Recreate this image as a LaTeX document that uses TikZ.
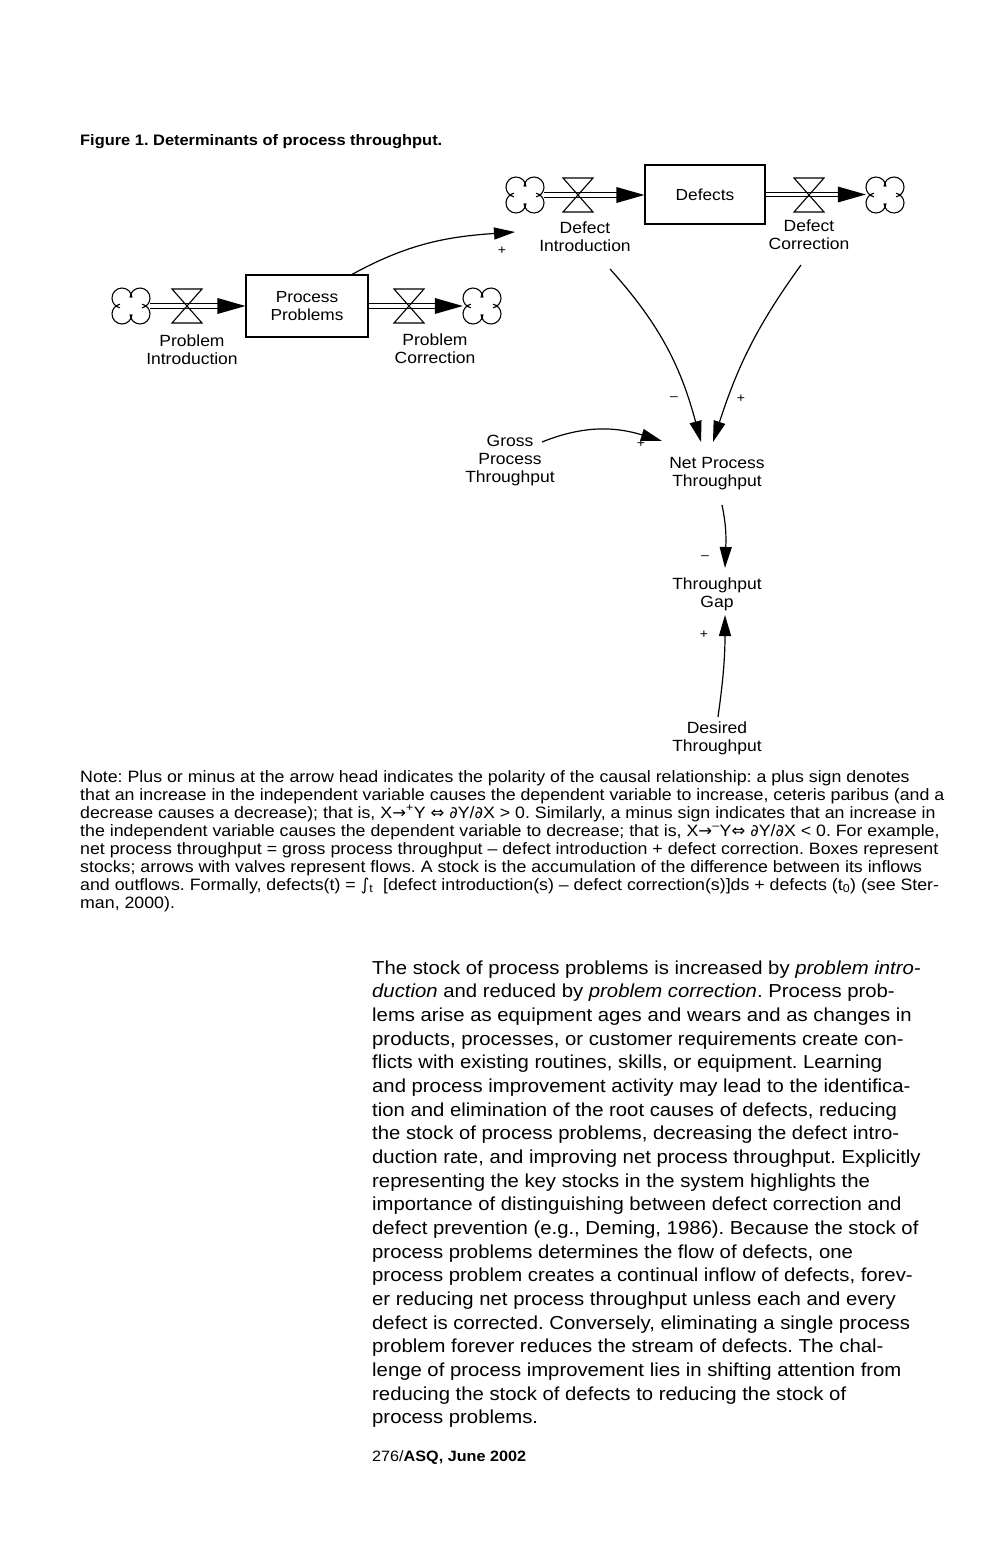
\documentclass[tikz,border=0pt]{standalone}
\usepackage{fontspec}
\setmainfont{Liberation Sans}[FakeStretch=1.08]
\newfontfamily\symf{DejaVu Sans}
\usetikzlibrary{arrows.meta,calc}
\frenchspacing

\tikzset{
  stock/.style={draw, line width=1.2pt, inner sep=0pt, align=center,
    font=\fontsize{16}{18.5}\selectfont},
  lbl/.style={inner sep=0pt, align=center, font=\fontsize{16.2}{18}\selectfont},
  pipe/.style={line width=1.1pt},
  causal/.style={line width=1.2pt, -{Triangle[length=21pt,width=12pt]}},
  pol/.style={inner sep=0pt, font=\fontsize{13}{13}\selectfont},
  cloudpt/.style={inner sep=0pt, minimum width=38pt, minimum height=36pt},
  valvept/.style={inner sep=0pt, minimum width=30pt, minimum height=34pt},
  cloud/.pic={
    \draw[line width=1.1pt] (9,8)   ++(178:10)  arc[start angle=178, end angle=-78, radius=10];
    \draw[line width=1.1pt] (-9,8)  ++(2:10)    arc[start angle=2, end angle=258, radius=10];
    \draw[line width=1.1pt] (-9,-8) ++(-2:10)   arc[start angle=-2, end angle=-258, radius=10];
    \draw[line width=1.1pt] (9,-8)  ++(-178:10) arc[start angle=-178, end angle=78, radius=10];
  },
  valve/.pic={
    \draw[line width=1.1pt, line join=miter] (-15,17) -- (15,17) -- (-15,-17) -- (15,-17) -- cycle;
  },
  caption/.style={anchor=base west, inner sep=0pt, font=\fontsize{15.2}{17}\selectfont\bfseries},
  note/.style={anchor=base west, inner sep=0pt, font=\fontsize{16.45}{18}\selectfont},
  body/.style={anchor=base west, inner sep=0pt, font=\fontsize{18.8}{23.7}\selectfont},
}

% material flow: double pipe from #1 to the anchor #2, ending in a solid head
\newcommand\flowline[2]{%
  \coordinate (ft) at (#1 -| #2);
  \draw[pipe] ($(#1)+(0,2.3)$) -- ($(ft)+(-26,2.3)$);
  \draw[pipe] ($(#1)+(0,-2.3)$) -- ($(ft)+(-26,-2.3)$);
  \fill ($(ft)+(-28,8)$) -- (ft) -- ($(ft)+(-28,-8)$) -- cycle;
}

\begin{document}
\begin{tikzpicture}[x=1pt,y=1pt]
\fill[white] (0,0) rectangle (1008,-1548);
\useasboundingbox (0,0) rectangle (1008,-1548);

\node[caption] (cap) at (80,-145) {Figure 1. Determinants of process throughput.};

% ---- defects chain ----
\node[stock, minimum width=120pt, minimum height=59pt] (ds) at (705,-194.5) {Defects};
\node[cloudpt] (cd1) at (525,-195) {};
\node[cloudpt] (cd2) at (885,-195) {};
\pic at (cd1) {cloud};
\pic at (cd2) {cloud};
\flowline{cd1.east}{ds.west}
\flowline{ds.east}{cd2.west}
\node[valvept] (vdi) at (578,-195) {};
\node[valvept] (vdc) at (809,-195) {};
\pic at (vdi) {valve};
\pic at (vdc) {valve};
\node[lbl] (dilab) at (585,-237) {Defect\\Introduction};
\node[lbl] (dclab) at (809,-235) {Defect\\Correction};

% ---- process problems chain ----
\node[stock, minimum width=122pt, minimum height=62pt] (pp) at (307,-306) {Process\\Problems};
\node[cloudpt] (cp1) at (131,-306) {};
\node[cloudpt] (cp2) at (482,-306) {};
\pic at (cp1) {cloud};
\pic at (cp2) {cloud};
\flowline{cp1.east}{pp.west}
\flowline{pp.east}{cp2.west}
\node[valvept] (vpi) at (187,-306) {};
\node[valvept] (vpc) at (409,-306) {};
\pic at (vpi) {valve};
\pic at (vpc) {valve};
\node[lbl] (pilab) at (192,-350) {Problem\\Introduction};
\node[lbl] (pclab) at (435,-349) {Problem\\Correction};

% ---- auxiliary variables ----
\node[lbl] (gross) at (510,-461) {Gross\\Process\\Throughput};
\node[lbl] (net) at (717,-474) {Net Process\\Throughput};
\node[lbl] (gap) at (717,-594) {Throughput\\Gap};
\node[lbl] (des) at (717,-738) {Desired\\Throughput};

% ---- causal links ----
\coordinate (ppout) at (351,-275);
\coordinate (diin) at (515,-232);
\coordinate (diout) at (610,-269);
\coordinate (dcout) at (801,-265);
\coordinate (netinl) at (701,-442);
\coordinate (netinr) at (713,-442);
\coordinate (grossout) at (542,-442);
\coordinate (netinc) at (662,-441);
\coordinate (netout) at (722,-505);
\coordinate (gapin) at (725,-568);
\coordinate (desout) at (718,-717);
\coordinate (gapinb) at (725,-615);

\draw[causal] (ppout) to[out=29,in=184] (diin);
\draw[causal] (diout) to[out=-48,in=105] (netinl);
\draw[causal] (dcout) to[out=-126,in=72] (netinr);
\draw[causal] (grossout) to[out=22,in=163] (netinc);
\draw[causal] (netout) to[out=-78,in=88] (gapin);
\draw[causal] (desout) to[out=82,in=-90] (gapinb);

\node[pol] at (502,-251) {+};
\node[pol] at (674,-399) {–};
\node[pol] at (741,-399) {+};
\node[pol] at (641,-444) {+};
\node[pol] at (705,-558) {–};
\node[pol] at (704,-635) {+};

% ---- note ----
\node[note] at (80,-782) {Note: Plus or minus at the arrow head indicates the polarity of the causal relationship: a plus sign denotes};
\node[note] at (80,-800) {that an increase in the independent variable causes the dependent variable to increase, ceteris paribus (and a};
\node[note] at (80,-818) {decrease causes a decrease); that is, X{\symf→}\textsuperscript{+}Y {\symf⇔} {\symf∂}Y/{\symf∂}X > 0. Similarly, a minus sign indicates that an increase in};
\node[note] at (80,-836) {the independent variable causes the dependent variable to decrease; that is, X{\symf→}\textsuperscript{–}Y{\symf⇔} {\symf∂}Y/{\symf∂}X < 0. For example,};
\node[note] at (80,-854) {net process throughput = gross process throughput – defect introduction + defect correction. Boxes represent};
\node[note] at (80,-872) {stocks; arrows with valves represent flows. A stock is the accumulation of the difference between its inflows};
\node[note] at (80,-890) {and outflows. Formally, defects(t) = {\symf∫}\textsubscript{t}\ \ [defect introduction(s) – defect correction(s)]ds + defects (t\textsubscript{0}) (see Ster-};
\node[note] at (80,-908) {man, 2000).};

% ---- running text ----
\foreach \ln [count=\i from 0] in {
  {The stock of process problems is increased by \emph{problem intro-}},
  {\emph{duction} and reduced by \emph{problem correction}. Process prob-},
  {lems arise as equipment ages and wears and as changes in},
  {products, processes, or customer requirements create con-},
  {flicts with existing routines, skills, or equipment. Learning},
  {and process improvement activity may lead to the identifica-},
  {tion and elimination of the root causes of defects, reducing},
  {the stock of process problems, decreasing the defect intro-},
  {duction rate, and improving net process throughput. Explicitly},
  {representing the key stocks in the system highlights the},
  {importance of distinguishing between defect correction and},
  {defect prevention (e.g., Deming, 1986). Because the stock of},
  {process problems determines the flow of defects, one},
  {process problem creates a continual inflow of defects, forev-},
  {er reducing net process throughput unless each and every},
  {defect is corrected. Conversely, eliminating a single process},
  {problem forever reduces the stream of defects. The chal-},
  {lenge of process improvement lies in shifting attention from},
  {reducing the stock of defects to reducing the stock of},
  {process problems.}}
  \node[body] (t\i) at (372,{-974-23.68*\i}) {\ln};

\node[anchor=base west, inner sep=0pt, font=\fontsize{15}{18}\selectfont] (foot) at (372,-1461) {276/\textbf{ASQ, June 2002}};
\end{tikzpicture}
\end{document}
